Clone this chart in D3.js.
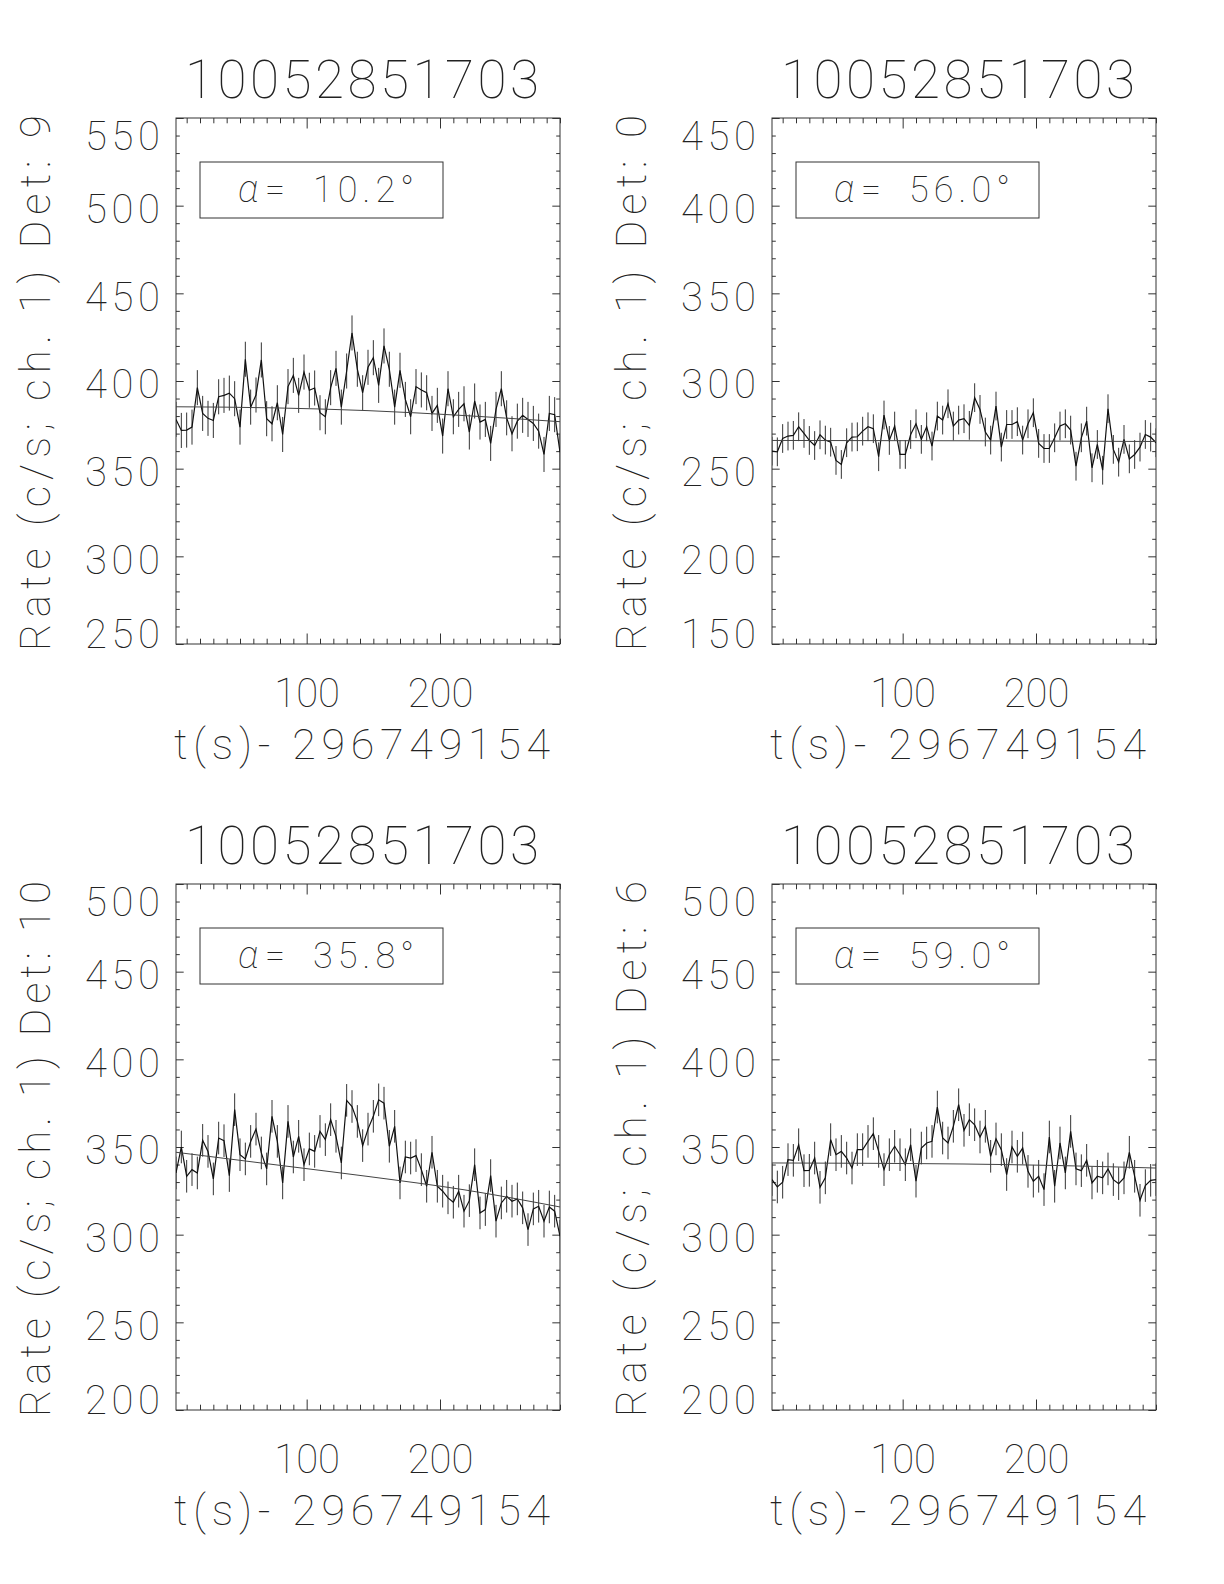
<!DOCTYPE html>
<html>
<head>
<meta charset="utf-8">
<script src="https://cdn.jsdelivr.net/npm/d3@7"></script>
<style>
  html, body { margin: 0; padding: 0; background: #fff; }
  svg { display: block; }
  text { font-family: Roboto, "Noto Sans", "DejaVu Sans", sans-serif; font-weight: 100; fill: #222; }
</style>
</head>
<body>
<script>
// ---------------- data ----------------
const times = [2,6,10,14,18,22,26,30,34,38,42,46,50,54,58,62,66,70,74,78,82,86,90,94,98,102,106,110,114,118,122,126,130,134,138,142,146,150,154,158,162,166,170,174,178,182,186,190,194,198,202,206,210,214,218,222,226,230,234,238,242,246,250,254,258,262,266,270,274,278,282,286,290];

const panelTitles = ["10052851703", "10052851703", "10052851703", "10052851703"];
const detectorLabels = ["Rate (c/s; ch. 1) Det: 9", "Rate (c/s; ch. 1) Det: 0", "Rate (c/s; ch. 1) Det: 10", "Rate (c/s; ch. 1) Det: 6"];
const alphaValues = ["10.2", "56.0", "35.8", "59.0"];
const xTitle = "t(s)- 296749154";
const xDomain = [2, 290];
const xMajorTicks = [100, 200];
const xMinorTicks = [10,20,30,40,50,60,70,80,90,110,120,130,140,150,160,170,180,190,210,220,230,240,250,260,270,280,290];
const yDomains = [[250, 550], [150, 450], [200, 500], [200, 500]];
const yMajorTicks = [
  [250, 300, 350, 400, 450, 500, 550],
  [150, 200, 250, 300, 350, 400, 450],
  [200, 250, 300, 350, 400, 450, 500],
  [200, 250, 300, 350, 400, 450, 500]
];

const rates1 = [378.1,371.8,372.0,373.7,396.2,381.5,378.7,377.5,391.0,391.8,393.1,389.9,373.7,412.4,385.1,392.0,412.0,378.5,375.6,387.6,369.5,396.8,403.2,391.8,405.1,394.7,396.0,381.9,379.6,396.2,407.2,385.1,405.7,427.4,406.7,393.3,407.8,413.3,397.5,420.0,406.7,385.1,406.1,389.5,379.6,396.8,394.9,393.3,381.5,386.1,368.6,395.6,379.6,383.8,387.0,370.9,388.6,376.6,378.1,364.4,383.8,395.6,379.0,369.9,377.1,380.4,378.1,375.8,371.4,358.1,381.5,380.8,359.4];
const rates2 = [260.0,259.6,267.2,268.6,269.0,273.9,270.1,266.1,263.2,269.3,266.3,265.1,254.7,252.4,264.8,268.0,268.2,271.4,273.9,272.8,256.8,280.6,266.1,274.3,258.1,258.1,269.5,275.6,266.7,273.9,262.9,280.0,277.7,287.0,274.3,277.7,278.5,274.7,290.5,283.8,270.9,266.3,285.7,262.3,275.2,275.2,276.8,266.3,275.6,281.9,264.4,261.5,261.5,267.6,274.3,275.6,272.0,251.4,267.6,277.1,250.5,263.8,249.1,284.2,261.0,253.7,266.7,255.6,258.1,262.3,269.5,268.0,264.8];
const rates3 = [335.2,350.0,333.3,337.1,335.2,353.8,347.5,331.8,355.1,353.6,333.7,371.3,345.6,343.2,353.2,360.2,346.6,337.5,367.5,353.2,329.5,364.6,344.3,356.1,339.9,348.9,347.5,358.9,354.2,365.6,356.1,340.9,376.6,373.1,364.6,350.8,360.2,367.5,376.9,375.0,350.4,361.8,329.5,344.3,343.7,345.1,337.1,327.6,347.0,327.6,324.8,321.0,318.5,324.8,313.4,319.4,339.9,312.4,314.3,333.7,307.7,318.1,321.9,319.1,320.4,315.3,302.9,314.7,316.2,307.7,315.8,313.4,299.1];
const rates4 = [331.4,327.2,329.9,342.8,342.4,351.3,336.5,336.7,343.7,327.0,332.4,354.2,345.6,347.5,343.7,338.0,348.5,348.5,353.2,357.6,347.5,337.1,345.6,350.4,345.6,339.9,351.3,330.5,349.4,352.3,353.2,372.8,355.1,352.3,361.8,374.1,359.5,365.6,362.7,355.7,361.8,344.7,354.6,348.5,334.3,350.0,344.7,349.4,336.1,330.5,333.3,325.7,355.7,327.6,352.3,335.2,358.9,337.5,336.5,342.4,329.5,333.3,332.4,337.5,331.4,329.1,332.4,347.0,333.3,319.6,328.0,331.0,331.4];
const errorHalfWidths = [10.0, 8.2, 9.3, 9.3];

const fitTimes = [2, 74, 146, 218, 290];
const fit1 = [385.3, 384.7, 383.1, 380.3, 376.8];
const fit2 = [266.1, 266.0, 265.9, 265.7, 265.5];
const fit3 = [347.0, 340.1, 333.2, 325.6, 315.8];
const fit4 = [340.9, 340.7, 340.3, 339.4, 338.0];

const allRates = [rates1, rates2, rates3, rates4];
const allFits = [fit1, fit2, fit3, fit4];

// ---------------- layout ----------------
const W = 384, H = 526;
const lefts = [176, 772, 176, 772];
const tops = [118, 118, 884, 884];
const xMajLen = 10.5, xMinLen = 5.3, yMajLen = 7.7, yMinLen = 3.8;
const ink = "#222";
const fontStack = 'Roboto, "Noto Sans", sans-serif';

const svg = d3.select("body").append("svg")
  .attr("width", 1224).attr("height", 1584)
  .attr("viewBox", "0 0 1224 1584");

allRates.forEach((rates, k) => {
  const g = svg.append("g").attr("transform", `translate(${lefts[k]},${tops[k]})`);
  const x = d3.scaleLinear().domain(xDomain).range([0, W]);
  const y = d3.scaleLinear().domain(yDomains[k]).range([H, 0]);

  const clipId = "clip" + k;
  g.append("clipPath").attr("id", clipId)
    .append("rect").attr("x", 0).attr("y", 0).attr("width", W).attr("height", H);

  g.append("rect").attr("x", 0).attr("y", 0).attr("width", W).attr("height", H)
    .attr("fill", "none").attr("stroke", "#333").attr("stroke-width", 1);

  const styleAxis = sel => {
    sel.select(".domain").remove();
    sel.selectAll(".tick line").attr("stroke", "#333").attr("stroke-width", 1);
  };

  // bottom axis
  g.append("g").attr("transform", `translate(0,${H})`)
    .call(d3.axisBottom(x).tickValues(xMinorTicks).tickSize(-xMinLen).tickFormat(""))
    .call(styleAxis);
  const bx = g.append("g").attr("transform", `translate(0,${H})`)
    .call(d3.axisBottom(x).tickValues(xMajorTicks).tickSize(-xMajLen).tickPadding(35).tickFormat(d3.format("d")))
    .call(styleAxis);
  bx.selectAll(".tick text").attr("font-size", 40).attr("fill", ink)
    .attr("font-family", fontStack).attr("font-weight", 100)
    .attr("dy", "0.71em");

  // top axis
  g.append("g")
    .call(d3.axisTop(x).tickValues(xMinorTicks).tickSize(-xMinLen).tickFormat(""))
    .call(styleAxis);
  g.append("g")
    .call(d3.axisTop(x).tickValues(xMajorTicks).tickSize(-xMajLen).tickFormat(""))
    .call(styleAxis);

  // y axes
  const [y0, y1] = yDomains[k];
  const yMinor = d3.range(y0 + 10, y1, 10).filter(v => (v - y0) % 50 !== 0);
  g.append("g").call(d3.axisLeft(y).tickValues(yMinor).tickSize(-yMinLen).tickFormat("")).call(styleAxis);
  g.append("g").attr("transform", `translate(${W},0)`)
    .call(d3.axisRight(y).tickValues(yMinor).tickSize(-yMinLen).tickFormat("")).call(styleAxis);
  g.append("g").attr("transform", `translate(${W},0)`)
    .call(d3.axisRight(y).tickValues(yMajorTicks[k]).tickSize(-yMajLen).tickFormat("")).call(styleAxis);
  const ly = g.append("g")
    .call(d3.axisLeft(y).tickValues(yMajorTicks[k]).tickSize(-yMajLen).tickPadding(16).tickFormat(d3.format("d")))
    .call(styleAxis);
  ly.selectAll(".tick text").attr("font-size", 40).attr("fill", ink)
    .attr("font-family", fontStack).attr("font-weight", 100)
    .attr("textLength", 75).attr("lengthAdjust", "spacing")
    .attr("dy", d => d === y1 ? "0.78em" : (d === y0 ? "0.08em" : "0.42em"));

  // plot content
  const plot = g.append("g").attr("clip-path", `url(#${clipId})`);
  const e = errorHalfWidths[k];
  plot.selectAll("line.err").data(rates).join("line").attr("class", "err")
    .attr("x1", (d, i) => x(times[i])).attr("x2", (d, i) => x(times[i]))
    .attr("y1", d => y(d - e)).attr("y2", d => y(d + e))
    .attr("stroke", "#333").attr("stroke-width", 1);

  plot.append("path").datum(rates)
    .attr("d", d3.line().x((d, i) => x(times[i])).y(d => y(d)))
    .attr("fill", "none").attr("stroke", "#111").attr("stroke-width", 1.2);

  plot.append("path").datum(allFits[k])
    .attr("d", d3.line().curve(d3.curveMonotoneX).x((d, i) => x(fitTimes[i])).y(d => y(d)))
    .attr("fill", "none").attr("stroke", "#444").attr("stroke-width", 1);

  // legend box
  g.append("rect").attr("x", 24).attr("y", 44).attr("width", 243).attr("height", 56)
    .attr("fill", "none").attr("stroke", "#333").attr("stroke-width", 1);
  g.append("text").attr("x", 62).attr("y", 84).attr("font-size", 38)
    .attr("font-style", "italic").text("α");
  g.append("text").attr("x", 89).attr("y", 84).attr("font-size", 36).text("=");
  g.append("text").attr("x", 137).attr("y", 84).attr("font-size", 36)
    .attr("textLength", 101).attr("lengthAdjust", "spacing")
    .text(alphaValues[k] + "°");

  // title
  g.append("text").attr("x", W / 2 - 6).attr("y", -20).attr("text-anchor", "middle")
    .attr("font-size", 53).attr("textLength", 354).attr("lengthAdjust", "spacing")
    .text(panelTitles[k]);

  // x title
  g.append("text").attr("x", W / 2 - 6).attr("y", H + 115).attr("text-anchor", "middle")
    .attr("font-size", 43).attr("textLength", 376).attr("lengthAdjust", "spacing")
    .text(xTitle);

  // y title
  g.append("text").attr("transform", `translate(${-126},${H / 2 + 2}) rotate(-90)`)
    .attr("text-anchor", "middle")
    .attr("font-size", 42).attr("textLength", 536).attr("lengthAdjust", "spacing")
    .text(detectorLabels[k]);
});
</script>
</body>
</html>
